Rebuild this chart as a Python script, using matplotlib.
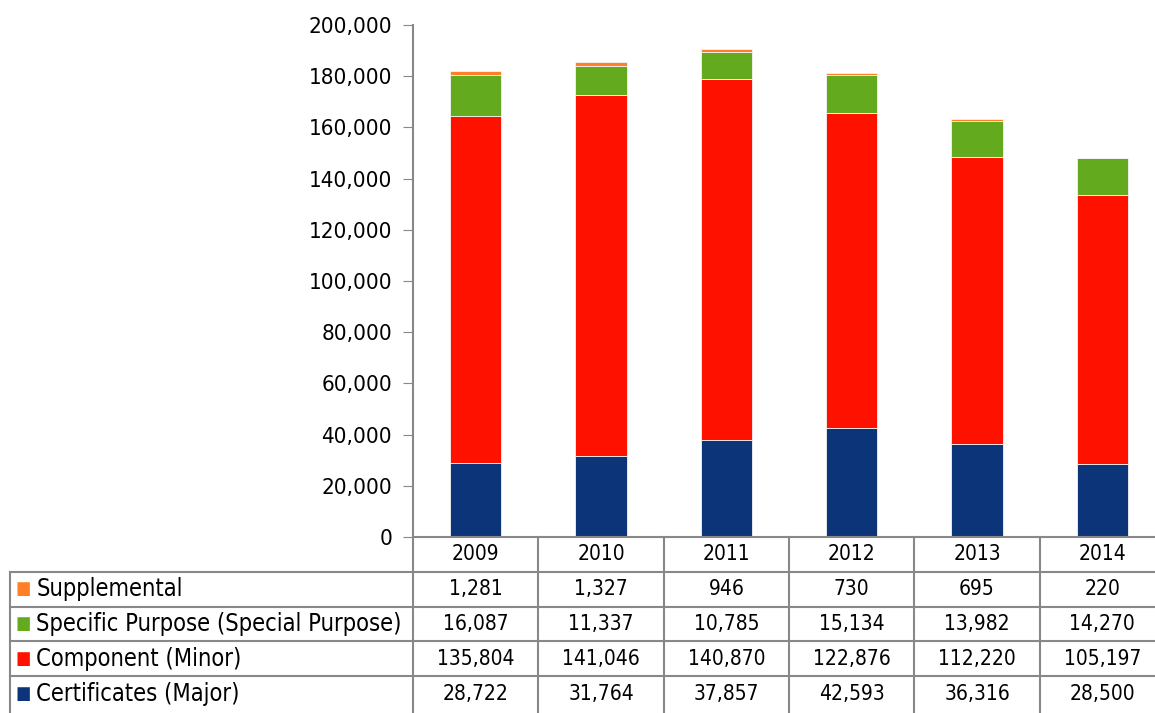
import numpy as np
import matplotlib.pyplot as plt
from matplotlib.ticker import FuncFormatter

years = ['2009', '2010', '2011', '2012', '2013', '2014']
series = ['Supplemental', 'Specific Purpose (Special Purpose)',
          'Component (Minor)', 'Certificates (Major)']
supplemental = [1281, 1327, 946, 730, 695, 220]
specific = [16087, 11337, 10785, 15134, 13982, 14270]
component = [135804, 141046, 140870, 122876, 112220, 105197]
certificates = [28722, 31764, 37857, 42593, 36316, 28500]
colors = ['#FF7F27', '#63AA1F', '#FF1100', '#0B3578']

W, H = 1155, 713
fig = plt.figure(figsize=(W / 100, H / 100), dpi=100)
plt.rcParams['font.family'] = 'DejaVu Sans'
plt.rcParams['font.stretch'] = 'condensed'
FS = 15  # numbers
FS_TICK = 16
FS_LAB = 17

ax_left, ax_right = 413, 1165
ax_top, ax_bot = 25, 537
ax = fig.add_axes([ax_left / W, 1 - ax_bot / H, (ax_right - ax_left) / W, (ax_bot - ax_top) / H])

x = np.arange(len(years))
stack = [certificates, component, specific, supplemental]
stack_cols = colors[::-1]
bottom = np.zeros(len(years))
for vals, c in zip(stack, stack_cols):
    ax.bar(x, vals, 0.41, bottom=bottom, color=c, edgecolor='#f4f4f4', linewidth=0.6)
    bottom += np.array(vals)

ax.set_xlim(-0.5, len(years) - 0.5)
ax.set_ylim(0, 200000)
ax.set_yticks(np.arange(0, 200001, 20000))
ax.yaxis.set_major_formatter(FuncFormatter(lambda v, p: f'{int(v):,}'))
ax.tick_params(axis='y', direction='out', length=7, color='#888888', labelsize=FS_TICK, pad=8)
ax.tick_params(axis='x', bottom=False, labelbottom=False)
for s in ['top', 'right']:
    ax.spines[s].set_visible(False)
for s in ['left', 'bottom']:
    ax.spines[s].set_color('#888888')
    ax.spines[s].set_linewidth(1.5)

# data table under the axes
tr = ax.get_xaxis_transform()
row_h = 34.8 / (ax_bot - ax_top)  # axes units
lc = '#888888'
n_rows = len(series)
tab_bottom = -row_h * (n_rows + 1.3)
label_left = (10 - ax_left) / (ax_right - ax_left) * len(years) - 0.5
for i in range(len(years) + 1):
    ax.plot([i - 0.5, i - 0.5], [0, tab_bottom], transform=tr, color=lc, lw=1.5, clip_on=False)
for r in range(1, n_rows + 1):
    ax.plot([label_left, len(years) - 0.5], [-row_h * r, -row_h * r],
            transform=tr, color=lc, lw=1.5, clip_on=False)
ax.plot([label_left, label_left], [-row_h, tab_bottom], transform=tr, color=lc, lw=1.5, clip_on=False)

for i, yr in enumerate(years):
    ax.text(i, -row_h * 0.5, yr, transform=tr, ha='center', va='center', fontsize=FS, clip_on=False)

table_vals = [supplemental, specific, component, certificates]
for r, (name, vals, c) in enumerate(zip(series, table_vals, colors)):
    yc = -row_h * (r + 1.5)
    for i, v in enumerate(vals):
        ax.text(i, yc, f'{v:,}', transform=tr, ha='center', va='center', fontsize=FS, clip_on=False)
    ax.text(label_left + 0.045, yc, '■', color=c, transform=tr, ha='left', va='center',
            fontsize=13, clip_on=False)
    ax.text(label_left + 0.21, yc, name, transform=tr, ha='left', va='center',
            fontsize=FS_LAB, clip_on=False)

fig.savefig('out.png', dpi=100)
